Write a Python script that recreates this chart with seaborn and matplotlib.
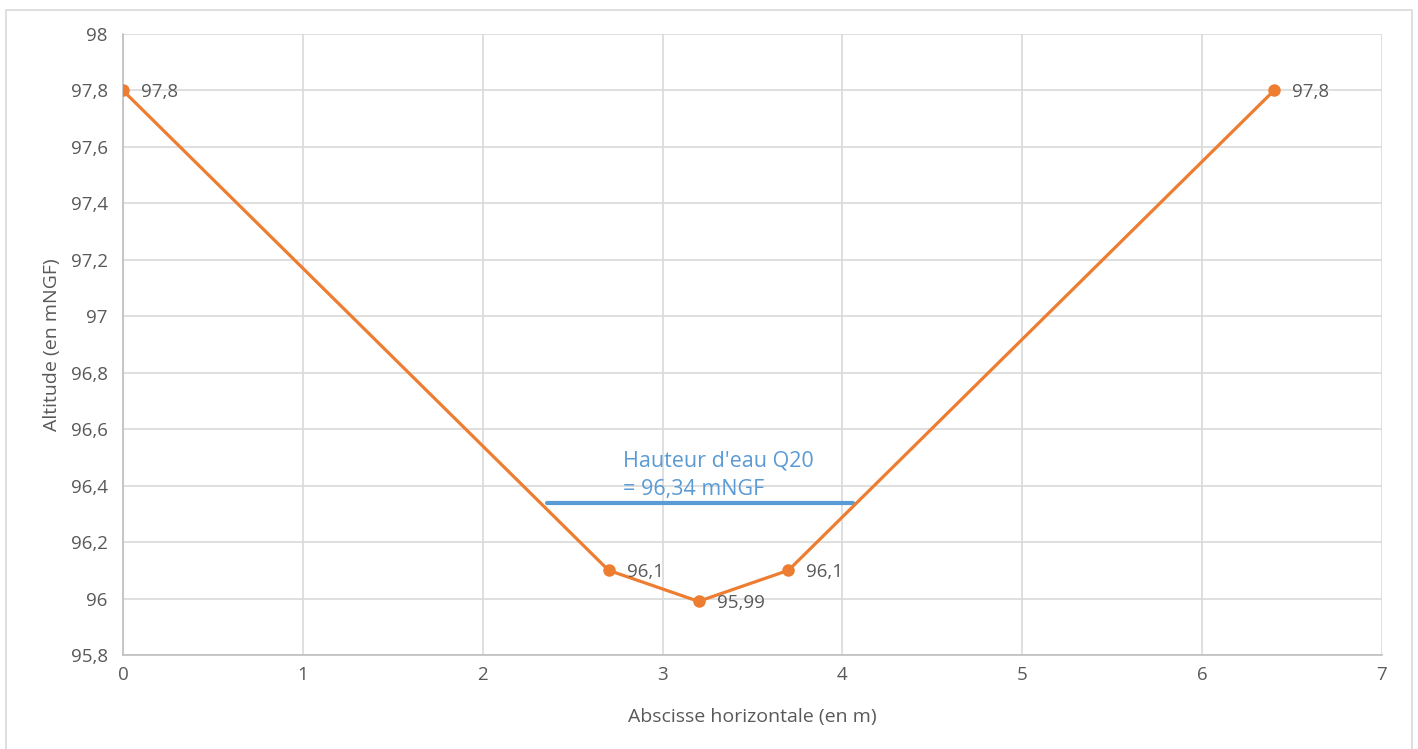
import matplotlib
matplotlib.use("Agg")
import matplotlib.pyplot as plt
from matplotlib.patches import Rectangle
from matplotlib.ticker import FuncFormatter
import seaborn as sns
import pandas as pd

# Cross-section profile of the channel
abscisse = [0, 2.7, 3.2, 3.7, 6.4]
altitude = [97.8, 96.1, 95.99, 96.1, 97.8]

# Q20 water level and its extent across the section
niveau_q20 = 96.34
niveau_x = [2.36, 4.06]

x_ticks = [0, 1, 2, 3, 4, 5, 6, 7]
y_ticks = [95.8, 96.0, 96.2, 96.4, 96.6, 96.8, 97.0, 97.2, 97.4, 97.6, 97.8, 98.0]

ORANGE = "#ED7D31"
BLUE = "#5B9BD5"
TEXT = "#595959"
GRID = "#D9D9D9"

sns.set_theme(style="white")
plt.rcParams["font.family"] = ["Open Sans", "DejaVu Sans"]


def fr(v):
    return f"{round(v, 2):g}".replace(".", ",")


fig = plt.figure(figsize=(14.18, 7.49), dpi=100)
ax = fig.add_axes([0.0867, 0.1255, 0.8879, 0.8291])

# Chart frame
fig.patches.append(Rectangle((6 / 1418, -0.05), (1412 - 6) / 1418, 1.05 - 10 / 749,
                             transform=fig.transFigure, fill=False,
                             edgecolor=GRID, linewidth=1.2))

profil = pd.DataFrame({"x": abscisse, "y": altitude})
sns.lineplot(data=profil, x="x", y="y", sort=False, ax=ax, color=ORANGE,
             linewidth=2.3, marker="o", markersize=9, markeredgewidth=0,
             zorder=3)

for xv, yv in zip(abscisse, altitude):
    ax.annotate(fr(yv), (xv, yv), xytext=(13, -1), textcoords="offset points",
                ha="left", va="center", fontsize=13.5, color=TEXT, zorder=4)

eau = pd.DataFrame({"x": niveau_x, "y": [niveau_q20, niveau_q20]})
sns.lineplot(data=eau, x="x", y="y", ax=ax, color=BLUE, linewidth=3,
             zorder=2)
ax.text(2.78, niveau_q20 + 0.028, f"Hauteur d'eau Q20\n= {fr(niveau_q20)} mNGF",
        color=BLUE, fontsize=15.5, ha="left", va="baseline", linespacing=1.45)

ax.set_xlim(0, 7)
ax.set_ylim(95.8, 98)
ax.set_xticks(x_ticks)
ax.set_yticks(y_ticks)
ax.xaxis.set_major_formatter(FuncFormatter(lambda v, p: fr(v)))
ax.yaxis.set_major_formatter(FuncFormatter(lambda v, p: fr(v)))
ax.grid(True, color=GRID, linewidth=1.2)
ax.set_axisbelow(True)
for side, sp in ax.spines.items():
    sp.set_visible(side in ("left", "bottom"))
    sp.set_color("#BFBFBF")
    sp.set_linewidth(1.2)
ax.tick_params(axis="both", length=0, labelsize=13.5, colors=TEXT)
ax.tick_params(axis="y", pad=11)
ax.tick_params(axis="x", pad=8)

ax.set_xlabel("Abscisse horizontale (en m)", fontsize=14, color=TEXT, labelpad=17)
ax.set_ylabel("Altitude (en mNGF)", fontsize=14, color=TEXT, labelpad=7)

fig.savefig("out.png", dpi=100, facecolor="white")
